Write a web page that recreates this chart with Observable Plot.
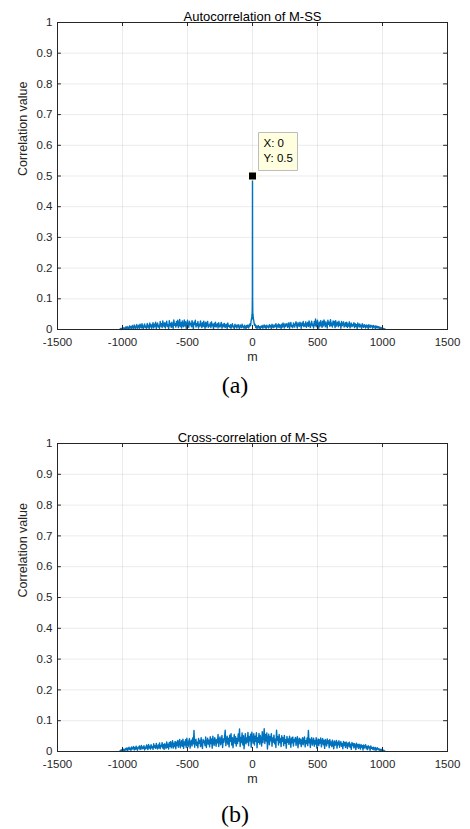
<!DOCTYPE html>
<html>
<head>
<meta charset="utf-8">
<script src="https://cdn.jsdelivr.net/npm/d3@7"></script>
<script src="https://cdn.jsdelivr.net/npm/@observablehq/plot@0.6"></script>
<style>
  html, body { margin: 0; padding: 0; background: #fff; overflow: hidden; }
  #wrap { width: 470px; }
  .cap { width: 470px; text-align: center; font-family: 'Liberation Serif', 'Times New Roman', serif; font-size: 24px; color: #000; }
  svg { display: block; }
</style>
</head>
<body>
<div id="wrap"></div>
<script>
// ---------- data ----------
const xTicks = [-1500, -1000, -500, 0, 500, 1000, 1500];
const yTicks = [0, 0.1, 0.2, 0.3, 0.4, 0.5, 0.6, 0.7, 0.8, 0.9, 1];

// Autocorrelation, lags -1020..-5 step 5
const autoLeft = [
0.001,0.003,0.000,0.004,0.002,0.006,0.001,0.005,0.003,0.008,
0.002,0.010,0.004,0.007,0.001,0.012,0.005,0.009,0.002,0.013,
0.006,0.003,0.015,0.008,0.002,0.011,0.016,0.004,0.009,0.014,
0.003,0.017,0.010,0.005,0.019,0.007,0.002,0.013,0.018,0.006,
0.011,0.003,0.020,0.008,0.014,0.002,0.021,0.009,0.016,0.004,
0.012,0.022,0.005,0.017,0.010,0.024,0.003,0.015,0.021,0.008,
0.013,0.004,0.026,0.011,0.019,0.006,0.028,0.014,0.009,0.022,
0.005,0.018,0.027,0.010,0.015,0.003,0.029,0.012,0.020,0.007,
0.024,0.011,0.004,0.031,0.014,0.019,0.008,0.026,0.013,0.030,
0.006,0.016,0.033,0.010,0.022,0.005,0.028,0.014,0.009,0.031,
0.012,0.025,0.004,0.018,0.030,0.011,0.007,0.027,0.015,0.020,
0.009,0.029,0.013,0.003,0.024,0.016,0.030,0.008,0.019,0.012,
0.026,0.005,0.017,0.011,0.028,0.014,0.006,0.022,0.010,0.027,
0.013,0.004,0.024,0.009,0.018,0.026,0.007,0.015,0.011,0.021,
0.006,0.025,0.012,0.017,0.003,0.020,0.010,0.024,0.008,0.014,
0.019,0.005,0.022,0.011,0.008,0.016,0.023,0.004,0.013,0.018,
0.009,0.020,0.006,0.014,0.017,0.003,0.021,0.010,0.012,0.007,
0.016,0.004,0.013,0.019,0.008,0.011,0.002,0.017,0.009,0.014,
0.005,0.012,0.016,0.007,0.003,0.015,0.010,0.006,0.017,0.008,
0.011,0.004,0.014,0.009,0.002,0.013,0.007,0.015,0.005,0.010,
0.018,0.012,0.030,0.040];
// Autocorrelation, central peak, lags -4..4
const autoPeakLags = [-4, -3, -2, -1, 0, 1, 2, 3, 4];
const autoPeakVals = [0.05, 0.035, 0.062, 0.105, 0.5, 0.105, 0.062, 0.035, 0.05];
// Autocorrelation, lags 5..1020 step 5
const autoRight = [
0.040,0.028,0.014,0.017,
0.006,0.012,0.003,0.010,0.013,0.005,0.009,0.002,0.011,0.007,
0.013,0.004,0.010,0.015,0.006,0.012,0.003,0.014,0.008,0.011,
0.005,0.016,0.009,0.013,0.002,0.017,0.010,0.006,0.015,0.008,
0.012,0.019,0.004,0.014,0.009,0.018,0.006,0.016,0.011,0.003,
0.017,0.008,0.021,0.012,0.005,0.019,0.010,0.014,0.020,0.007,
0.011,0.022,0.004,0.016,0.023,0.009,0.013,0.006,0.021,0.015,
0.008,0.019,0.025,0.012,0.005,0.022,0.014,0.010,0.024,0.017,
0.004,0.021,0.013,0.026,0.009,0.018,0.011,0.025,0.007,0.016,
0.023,0.010,0.028,0.014,0.006,0.020,0.027,0.012,0.017,0.005,
0.026,0.013,0.034,0.009,0.021,0.030,0.015,0.004,0.024,0.011,
0.029,0.016,0.007,0.027,0.012,0.031,0.019,0.009,0.025,0.014,
0.005,0.030,0.017,0.024,0.010,0.032,0.013,0.021,0.008,0.028,
0.015,0.026,0.006,0.029,0.011,0.019,0.024,0.009,0.027,0.013,
0.020,0.004,0.026,0.012,0.017,0.025,0.008,0.014,0.022,0.010,
0.024,0.007,0.018,0.011,0.025,0.005,0.015,0.021,0.009,0.016,
0.012,0.022,0.006,0.019,0.010,0.016,0.003,0.021,0.013,0.008,
0.018,0.009,0.014,0.004,0.019,0.011,0.007,0.016,0.012,0.005,
0.015,0.008,0.013,0.003,0.016,0.010,0.006,0.014,0.009,0.012,
0.004,0.013,0.008,0.011,0.002,0.012,0.006,0.010,0.005,0.009,
0.003,0.008,0.002,0.006,0.004,0.005,0.001,0.003,0.002,0.001];

// Cross-correlation, lags -1020..1020 step 5
const crossVals = [
0.001,0.004,0.002,0.006,0.003,0.008,0.002,0.007,0.004,0.010,
0.005,0.012,0.003,0.009,0.014,0.006,0.011,0.004,0.015,0.008,
0.010,0.016,0.005,0.013,0.007,0.017,0.009,0.004,0.014,0.011,
0.018,0.006,0.012,0.020,0.008,0.015,0.010,0.019,0.005,0.014,
0.009,0.021,0.013,0.006,0.023,0.011,0.017,0.008,0.022,0.012,
0.016,0.007,0.025,0.013,0.019,0.010,0.026,0.014,0.008,0.021,
0.012,0.028,0.009,0.020,0.016,0.029,0.011,0.023,0.007,0.025,
0.018,0.010,0.031,0.014,0.024,0.008,0.029,0.017,0.032,0.012,
0.022,0.035,0.011,0.027,0.016,0.033,0.009,0.030,0.019,0.036,
0.014,0.028,0.039,0.012,0.024,0.035,0.017,0.040,0.010,0.031,
0.021,0.038,0.013,0.043,0.026,0.016,0.034,0.042,0.011,0.029,
0.037,0.018,0.044,0.025,0.068,0.014,0.033,0.040,0.020,0.030,
0.012,0.042,0.027,0.036,0.016,0.045,0.022,0.010,0.039,0.029,
0.034,0.019,0.047,0.013,0.031,0.043,0.024,0.037,0.015,0.048,
0.026,0.041,0.011,0.050,0.030,0.020,0.045,0.035,0.017,0.039,
0.028,0.055,0.016,0.038,0.047,0.022,0.033,0.052,0.013,0.041,
0.030,0.047,0.069,0.019,0.036,0.050,0.024,0.043,0.015,0.053,
0.033,0.058,0.021,0.045,0.012,0.039,0.055,0.027,0.048,0.018,
0.042,0.026,0.057,0.034,0.073,0.016,0.046,0.029,0.060,0.022,
0.051,0.009,0.037,0.058,0.025,0.044,0.031,0.062,0.019,0.048,
0.035,0.056,0.014,0.063,0.040,0.027,0.058,0.021,0.050,0.033,
0.061,0.012,0.045,0.030,0.059,0.024,0.052,0.038,0.018,0.064,
0.029,0.047,0.074,0.026,0.055,0.034,0.060,0.008,0.043,0.056,
0.022,0.049,0.035,0.058,0.017,0.044,0.031,0.053,0.025,0.040,
0.013,0.069,0.036,0.048,0.021,0.055,0.029,0.042,0.016,0.051,
0.033,0.045,0.019,0.052,0.027,0.038,0.011,0.049,0.030,0.041,
0.023,0.050,0.035,0.014,0.044,0.028,0.047,0.018,0.039,0.032,
0.046,0.020,0.037,0.048,0.012,0.034,0.043,0.025,0.040,0.016,
0.031,0.045,0.022,0.038,0.047,0.015,0.035,0.026,0.044,0.019,
0.068,0.028,0.041,0.013,0.037,0.045,0.021,0.033,0.043,0.017,
0.036,0.024,0.045,0.011,0.030,0.041,0.019,0.038,0.027,0.044,
0.015,0.033,0.042,0.022,0.036,0.010,0.039,0.028,0.018,0.041,
0.026,0.035,0.012,0.039,0.021,0.031,0.016,0.037,0.024,0.009,
0.034,0.019,0.028,0.036,0.011,0.030,0.022,0.035,0.014,0.027,
0.032,0.017,0.025,0.009,0.033,0.020,0.029,0.013,0.031,0.023,
0.010,0.028,0.018,0.030,0.014,0.024,0.007,0.029,0.019,0.026,
0.012,0.025,0.020,0.006,0.027,0.015,0.022,0.010,0.024,0.017,
0.008,0.023,0.014,0.019,0.005,0.021,0.011,0.017,0.022,0.009,
0.016,0.006,0.019,0.012,0.015,0.004,0.018,0.010,0.013,0.007,
0.014,0.005,0.011,0.013,0.003,0.010,0.012,0.006,0.009,0.004,
0.008,0.003,0.007,0.002,0.005,0.003,0.004,0.001,0.001];

const tipPoint = [{m: 0, v: 0.5}];

// ---------- build tables ----------
const leftLags = d3.range(-1020, -4, 5);
const rightLags = d3.range(5, 1021, 5);
const autoData = [
  ...leftLags.map((m, i) => ({m, v: autoLeft[i]})),
  ...autoPeakLags.map((m, i) => ({m, v: autoPeakVals[i]})),
  ...rightLags.map((m, i) => ({m, v: autoRight[i]}))
];
const crossLags = d3.range(-1020, 1021, 5);
const crossData = crossLags.map((m, i) => ({m, v: crossVals[i]}));

const sans = "Arial, 'Liberation Sans', Helvetica, sans-serif";
const ink = "#262626";

function panel({title, data, marginTop, height, marginBottom, tip}) {
  const marks = [
    Plot.gridX(xTicks, {stroke: "#000", strokeOpacity: 0.1, strokeWidth: 0.8}),
    Plot.gridY(yTicks, {stroke: "#000", strokeOpacity: 0.1, strokeWidth: 0.8}),
    Plot.line(data, {x: "m", y: "v", stroke: "#0072BD", strokeWidth: 1.4}),
    Plot.frame({stroke: ink, strokeWidth: 1}),
    // inward ticks (MATLAB style)
    Plot.ruleX(xTicks, {x: d => d, y1: 0, y2: 0.013, stroke: ink}),
    Plot.ruleX(xTicks, {x: d => d, y1: 1, y2: 0.987, stroke: ink}),
    Plot.ruleY(yTicks, {y: d => d, x1: -1500, x2: -1470, stroke: ink}),
    Plot.ruleY(yTicks, {y: d => d, x1: 1500, x2: 1470, stroke: ink}),
    Plot.axisX({ticks: xTicks, tickSize: 0, tickPadding: 8, tickFormat: d => String(d), label: null, fill: ink, fontSize: 11.5}),
    Plot.axisY({ticks: yTicks, tickSize: 0, tickPadding: 5, tickFormat: d => String(d), label: null, fill: ink, fontSize: 11.5}),
    Plot.text([title], {frameAnchor: "top", dy: -11, text: d => d, fontSize: 13, fill: "#000"}),
    Plot.text(["m"], {frameAnchor: "bottom", dy: 31, text: d => d, fontSize: 12.5, fill: ink}),
    Plot.text(["Correlation value"], {frameAnchor: "left", dx: -35, rotate: -90, text: d => d, fontSize: 12.5, fill: ink})
  ];
  if (tip) {
    marks.push(
      Plot.tip(tipPoint, {x: "m", y: "v", title: d => `X: ${d.m}\nY: ${d.v}`, anchor: "bottom-left", pointerSize: 0,
        dx: 6, dy: -6, fill: "#ffffe0", stroke: "#bdbdbd", pathFilter: "none", fontSize: 11.5, textPadding: 5, lineHeight: 1.35}),
      Plot.dot(tipPoint, {x: "m", y: "v", symbol: "square", r: 4.5, fill: "#000", stroke: "#ffffe0", strokeWidth: 1})
    );
  }
  return Plot.plot({
    width: 470,
    height,
    marginTop,
    marginBottom,
    marginLeft: 57,
    marginRight: 23,
    style: {fontFamily: sans, background: "#fff", overflow: "visible"},
    x: {domain: [-1500, 1500]},
    y: {domain: [0, 1]},
    marks
  });
}

const wrap = document.getElementById("wrap");
wrap.appendChild(panel({title: "Autocorrelation of M-SS", data: autoData, marginTop: 22, height: 370, marginBottom: 41, tip: true}));
const capA = document.createElement("div");
capA.className = "cap"; capA.style.height = "34px"; capA.style.lineHeight = "30px"; capA.textContent = "(a)";
wrap.appendChild(capA);
wrap.appendChild(panel({title: "Cross-correlation of M-SS", data: crossData, marginTop: 39, height: 390, marginBottom: 43, tip: false}));
const capB = document.createElement("div");
capB.className = "cap"; capB.style.height = "40px"; capB.style.lineHeight = "40px"; capB.textContent = "(b)";
wrap.appendChild(capB);
</script>
</body>
</html>
